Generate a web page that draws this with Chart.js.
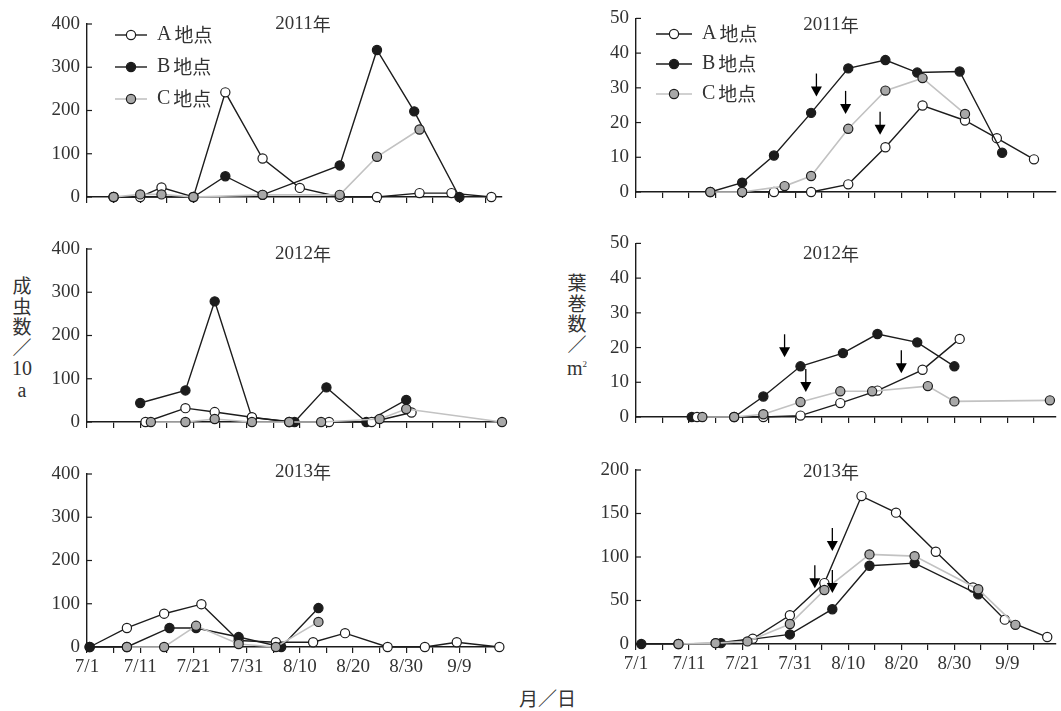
<!DOCTYPE html>
<html>
<head>
<meta charset="utf-8">
<script src="https://cdn.jsdelivr.net/npm/chart.js@4.4.1/dist/chart.umd.min.js"></script>
<style>
  body { margin: 0; background: #fff; width: 1061px; height: 711px; position: relative; overflow: hidden; }
  canvas { position: absolute; }
  .vtitle { position: absolute; font-family: 'Noto Sans CJK JP'; font-size: 19px; line-height: 20.5px; color: #333; text-align: center; width: 30px; }
  .vtitle .num { font-family: 'Liberation Serif'; font-size: 20px; }
  .xtitle { position: absolute; font-family: 'Noto Sans CJK JP'; font-size: 19px; color: #333; }
</style>
</head>
<body>
<div class="vtitle" style="left:7px;top:275px">成<br>虫<br>数<br>／<br><span class="num">10</span><br><span class="num">a</span></div>
<div class="vtitle" style="left:562px;top:272px">葉<br>巻<br>数<br>／<br><span class="num">m<sup style="font-size:9px">2</sup></span></div>
<div class="xtitle" style="left:519px;top:684px">月／日</div>
<script>
// Tick labels (days counted from 7/1) and names
const xTickLabels = ['7/1', '7/11', '7/21', '7/31', '8/10', '8/20', '8/30', '9/9'];
const siteNames = ['A地点', 'B地点', 'C地点'];
const yearTitles = ['2011年', '2012年', '2013年'];

// 成虫数 (adults / 10a) - day offsets from 7/1 and counts
const adultDays2011A = [5, 10, 14, 20, 26, 33, 40, 47.5, 54.5, 62.5, 68.5, 76];
const adult2011A     = [0, 0, 22, 0, 242, 89, 21, 0, 0, 9, 9, 0];
const adultDays2011B = [5, 20, 26, 33, 47.5, 54.5, 61.5, 70];
const adult2011B     = [0, 0, 48, 5, 73, 340, 198, 0];
const adultDays2011C = [5, 10, 14, 20, 33, 47.5, 54.5, 62.5];
const adult2011C     = [0, 6, 6, 0, 5, 5, 93, 156];

const adultDays2012A = [11, 18.5, 24, 31, 38, 45.5, 53.5, 61];
const adult2012A     = [0, 32, 23, 11, 0, 0, 0, 22];
const adultDays2012B = [10, 18.5, 24, 31, 39, 45, 52.5, 60];
const adult2012B     = [44, 73, 279, 10, 0, 80, 0, 51];
const adultDays2012C = [12, 18.5, 24, 31, 38, 44, 55, 60, 78];
const adult2012C     = [0, 0, 7, 0, 0, 0, 7, 30, 0];

const adultDays2013A = [0.5, 7.5, 14.5, 21.5, 28.5, 35.5, 42.5, 48.5, 56.5, 63.5, 69.5, 77.5];
const adult2013A     = [0, 44, 77, 99, 15, 11, 11, 32, 0, 0, 11, 0];
const adultDays2013B = [0.5, 7.5, 15.5, 20.5, 28.5, 36.5, 43.5];
const adult2013B     = [0, 0, 44, 44, 23, 0, 90];
const adultDays2013C = [7.5, 14.5, 20.5, 28.5, 35.5, 43.5];
const adult2013C     = [0, 0, 49, 7, 0, 58];

// 葉巻数 (leaf rolls / m2)
const rollDays2011A = [20, 26, 33, 40, 47, 54, 62, 68, 75];
const roll2011A     = [0, 0, 0, 2.2, 12.9, 24.9, 20.6, 15.5, 9.4];
const rollDays2011B = [14, 20, 26, 33, 40, 47, 53, 61, 69];
const roll2011B     = [0, 2.7, 10.5, 22.8, 35.6, 38.0, 34.4, 34.7, 11.3];
const rollDays2011C = [14, 20, 28, 33, 40, 47, 54, 62];
const roll2011C     = [0, 0, 1.7, 4.6, 18.2, 29.2, 32.8, 22.5];

const rollDays2012A = [11.5, 24, 31, 38.5, 45.5, 54, 61];
const roll2012A     = [0, 0, 0.4, 4.0, 7.6, 13.6, 22.5];
const rollDays2012B = [10.5, 18.5, 24, 31, 39, 45.5, 53, 60];
const roll2012B     = [0, 0, 5.9, 14.6, 18.4, 23.9, 21.5, 14.6];
const rollDays2012C = [12.5, 18.5, 24, 31, 38.5, 44.5, 55, 60, 78];
const roll2012C     = [0, 0, 0.8, 4.3, 7.4, 7.4, 8.9, 4.5, 4.8];

const rollDays2013A = [15, 22, 29, 35.5, 42.5, 49, 56.5, 63.5, 69.5, 77.5];
const roll2013A     = [1, 6, 33, 70, 170, 151, 106, 65, 28, 8];
const rollDays2013B = [1, 8, 16, 29, 37, 44, 52.5, 64.5];
const roll2013B     = [0, 0, 1, 11, 40, 90, 93, 57];
const rollDays2013C = [8, 15, 21, 29, 35.5, 44, 52.5, 64.5, 71.5];
const roll2013C     = [0, 1, 3, 23, 62, 103, 101, 63, 22];

// arrows (day, value at arrow tip)
const arrowDays2011 = [34, 39.5, 46];
const arrowTips2011 = [27.5, 22.5, 16.5];
const arrowDays2012 = [28, 32, 50];
const arrowTips2012 = [17.2, 7.2, 12.6];
const arrowDays2013 = [33.7, 37, 37];
const arrowTips2013 = [64, 107, 58.5];

const INK = '#1c1c1c';
const GRAY_LINE = '#c2c2c2';
const GRAY_FILL = '#a8a8a8';
const SERIF = "'Liberation Serif', serif";
const CJK = "'Noto Sans CJK JP', sans-serif";

const styles = [
  { line: INK, fill: '#ffffff', width: 1.4 },
  { line: INK, fill: INK, width: 1.4 },
  { line: GRAY_LINE, fill: GRAY_FILL, width: 1.6 }
];

// x, y, w, h: canvas box; plot: [left, top, right, bottom] of chart area (page px)
const panels = [
  { x: 0, y: 0, w: 530, h: 225, plot: [87, 24, 502, 197], xMax: 78, yMax: 400, yStep: 100, showX: false,
    title: yearTitles[0], titleAt: [303, 24], legend: [115, 35, 32, 32], aOverB: false,
    series: [[adultDays2011A, adult2011A], [adultDays2011B, adult2011B], [adultDays2011C, adult2011C]] },
  { x: 0, y: 225, w: 530, h: 225, plot: [87, 249, 502, 422], xMax: 78, yMax: 400, yStep: 100, showX: false,
    title: yearTitles[1], titleAt: [303, 254], aOverB: true,
    series: [[adultDays2012A, adult2012A], [adultDays2012B, adult2012B], [adultDays2012C, adult2012C]] },
  { x: 0, y: 450, w: 530, h: 261, plot: [87, 474, 502, 647], xMax: 78, yMax: 400, yStep: 100, showX: true,
    title: yearTitles[2], titleAt: [303, 472], aOverB: false,
    series: [[adultDays2013A, adult2013A], [adultDays2013B, adult2013B], [adultDays2013C, adult2013C]] },
  { x: 530, y: 0, w: 531, h: 225, plot: [636, 17, 1060, 192], xMax: 79, yMax: 50, yStep: 10, showX: false,
    title: yearTitles[0], titleAt: [831, 25], legend: [656, 34, 36, 30], aOverB: false,
    arrows: [arrowDays2011, arrowTips2011],
    series: [[rollDays2011A, roll2011A], [rollDays2011B, roll2011B], [rollDays2011C, roll2011C]] },
  { x: 530, y: 225, w: 531, h: 225, plot: [636, 242, 1060, 417], xMax: 79, yMax: 50, yStep: 10, showX: false,
    title: yearTitles[1], titleAt: [831, 254], aOverB: true,
    arrows: [arrowDays2012, arrowTips2012],
    series: [[rollDays2012A, roll2012A], [rollDays2012B, roll2012B], [rollDays2012C, roll2012C]] },
  { x: 530, y: 450, w: 531, h: 261, plot: [636, 470, 1060, 644], xMax: 79, yMax: 200, yStep: 50, showX: true,
    title: yearTitles[2], titleAt: [831, 472], aOverB: false,
    arrows: [arrowDays2013, arrowTips2013],
    series: [[rollDays2013A, roll2013A], [rollDays2013B, roll2013B], [rollDays2013C, roll2013C]] }
];

function drawMarker(ctx, x, y, i) {
  ctx.beginPath();
  ctx.arc(x, y, 4.6, 0, Math.PI * 2);
  ctx.fillStyle = styles[i].fill;
  ctx.fill();
  ctx.lineWidth = 1.2;
  ctx.strokeStyle = INK;
  ctx.stroke();
}

// titles, inward y ticks, legend, arrows
const decor = {
  id: 'decor',
  afterDraw(chart, args, o) {
    const ctx = chart.ctx, xs = chart.scales.x, ys = chart.scales.y;
    ctx.save();
    ctx.strokeStyle = INK;
    ctx.lineWidth = 1.2;
    ys.ticks.forEach(t => {
      const py = ys.getPixelForValue(t.value);
      ctx.beginPath(); ctx.moveTo(xs.left, py); ctx.lineTo(xs.left + 5, py); ctx.stroke();
    });

    // title
    const num = o.title.slice(0, -1), ch = o.title.slice(-1);
    ctx.textBaseline = 'middle';
    ctx.fillStyle = '#333';
    ctx.font = '19px ' + SERIF;
    const w1 = ctx.measureText(num).width;
    ctx.font = '18px ' + CJK;
    const w2 = ctx.measureText(ch).width;
    let tx = o.titleAt[0] - o.x - (w1 + w2) / 2;
    const ty = o.titleAt[1] - o.y;
    ctx.font = '19px ' + SERIF;
    ctx.textAlign = 'left';
    ctx.fillText(num, tx, ty);
    ctx.font = '18px ' + CJK;
    ctx.fillText(ch, tx + w1, ty);

    if (o.legend) {
      const [lx, ly, len, gap] = o.legend;
      siteNames.forEach((name, i) => {
        const x0 = lx - o.x, y0 = ly - o.y + i * gap;
        ctx.beginPath();
        ctx.moveTo(x0, y0); ctx.lineTo(x0 + len, y0);
        ctx.strokeStyle = styles[i].line; ctx.lineWidth = styles[i].width;
        ctx.stroke();
        drawMarker(ctx, x0 + len / 2, y0, i);
        ctx.fillStyle = '#333';
        ctx.font = '20px ' + SERIF;
        ctx.fillText(name[0], x0 + len + 10, y0);
        const wa = ctx.measureText(name[0]).width;
        ctx.font = '19px ' + CJK;
        ctx.fillText(name.slice(1), x0 + len + 13 + wa, y0);
      });
    }

    if (o.arrows) {
      const [days, tips] = o.arrows;
      ctx.fillStyle = '#000'; ctx.strokeStyle = '#000'; ctx.lineWidth = 1.3;
      days.forEach((d, i) => {
        const ax = xs.getPixelForValue(d), ay = ys.getPixelForValue(tips[i]);
        ctx.beginPath(); ctx.moveTo(ax, ay - 23); ctx.lineTo(ax, ay - 8); ctx.stroke();
        ctx.beginPath();
        ctx.moveTo(ax - 5.5, ay - 10); ctx.lineTo(ax + 5.5, ay - 10); ctx.lineTo(ax, ay);
        ctx.closePath(); ctx.fill();
      });
    }
    ctx.restore();
  }
};

panels.forEach(p => {
  const cv = document.createElement('canvas');
  cv.width = p.w; cv.height = p.h;
  cv.style.left = p.x + 'px'; cv.style.top = p.y + 'px';
  cv.style.width = p.w + 'px'; cv.style.height = p.h + 'px';
  document.body.appendChild(cv);

  const axisH = p.showX ? 32 : 8;
  // C on top; A over B where marked
  const orders = p.aOverB ? [1, 2, 0] : [2, 1, 0];

  const datasets = p.series.map((s, i) => ({
    label: siteNames[i],
    data: s[0].map((d, k) => ({ x: d, y: s[1][k] })),
    borderColor: styles[i].line,
    borderWidth: styles[i].width,
    backgroundColor: styles[i].fill,
    pointBackgroundColor: styles[i].fill,
    pointBorderColor: INK,
    pointBorderWidth: 1.2,
    pointRadius: 4.6,
    tension: 0,
    clip: false,
    order: orders[i]
  }));

  new Chart(cv, {
    type: 'line',
    data: { datasets },
    options: {
      responsive: false,
      animation: false,
      events: [],
      layout: {
        padding: {
          left: 0,
          top: p.plot[1] - p.y,
          right: p.x + p.w - p.plot[2],
          bottom: p.y + p.h - p.plot[3] - axisH
        }
      },
      scales: {
        x: {
          type: 'linear', min: 0, max: p.xMax,
          afterFit: s => { s.height = axisH; },
          border: { color: INK, width: 1.4 },
          grid: { drawOnChartArea: false, tickLength: 6, color: INK, lineWidth: 1.2 },
          ticks: {
            stepSize: 5, autoSkip: false, maxRotation: 0, includeBounds: false,
            padding: 3, color: '#333', font: { family: SERIF, size: 19 },
            callback: v => (p.showX && v % 10 === 0 && xTickLabels[v / 10]) ? xTickLabels[v / 10] : ''
          }
        },
        y: {
          min: 0, max: p.yMax,
          afterFit: s => { s.width = p.plot[0] - p.x; },
          border: { color: INK, width: 1.4 },
          grid: { drawOnChartArea: false, drawTicks: false },
          ticks: { stepSize: p.yStep, padding: 7, color: '#333', font: { family: SERIF, size: 19 } }
        }
      },
      plugins: {
        legend: { display: false },
        tooltip: { enabled: false },
        decor: p
      }
    },
    plugins: [decor]
  });
});
</script>
</body>
</html>
